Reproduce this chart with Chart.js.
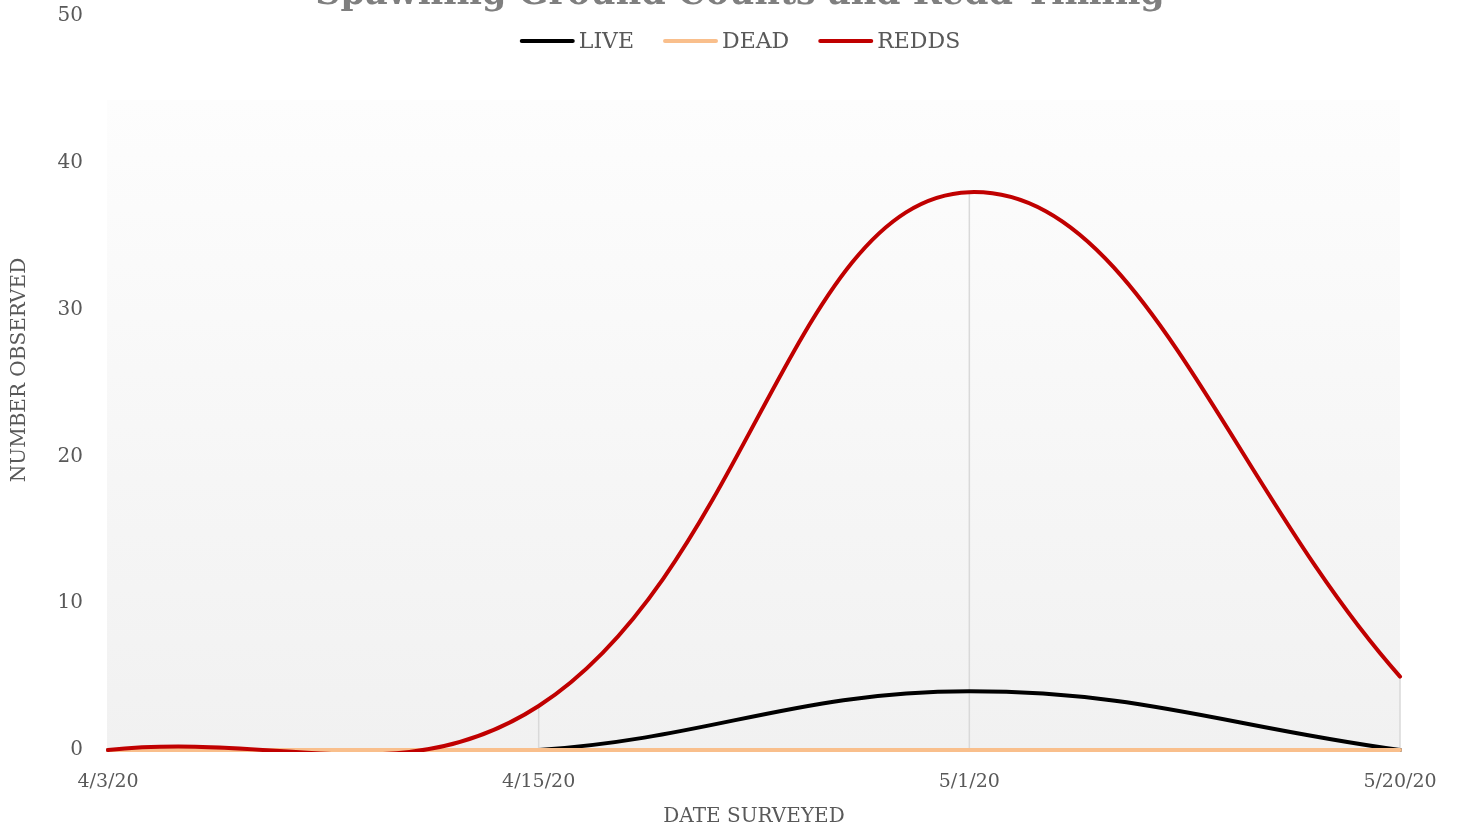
<!DOCTYPE html>
<html>
<head>
<meta charset="utf-8">
<title>Spawning Ground Counts and Redd Timing</title>
<script src="https://cdn.jsdelivr.net/npm/chart.js@4.4.0/dist/chart.umd.min.js"></script>
<style>
    html, body { margin: 0; padding: 0; background: #ffffff; }
    #wrap { position: relative; width: 1457px; height: 831px; overflow: hidden; }
</style>
</head>
<body>
<div id="wrap"><canvas id="spawnChart" width="1457" height="831"></canvas></div>
<script>
// Dados do gráfico
const surveyDates = ['4/3/20', '4/15/20', '5/1/20', '5/20/20'];
const liveCounts = [0, 0, 4, 0];
const deadCounts = [0, 0, 0, 0];
const reddCounts = [0, 3, 38, 5];
const yTickValues = [0, 10, 20, 30, 40, 50];

const chartTitle = 'Spawning Ground Counts and Redd Timing';
const fontFamily = "'DejaVu Serif', 'Liberation Serif', serif";
const textColor = '#595959';

// Fundo em degradê da área de plotagem
const plotBackground = {
    id: 'plotBackground',
    beforeDraw(chart) {
        const { ctx, chartArea } = chart;
        const top = 100;
        const grad = ctx.createLinearGradient(0, top, 0, chartArea.bottom);
        grad.addColorStop(0, '#fdfdfd');
        grad.addColorStop(1, '#f1f1f1');
        ctx.save();
        ctx.fillStyle = grad;
        ctx.fillRect(chartArea.left - 1, top, chartArea.right - chartArea.left + 1, chartArea.bottom - top);
        ctx.restore();
    }
};

// Linhas verticais (drop lines) do maior valor até o zero
const dropLines = {
    id: 'dropLines',
    beforeDatasetsDraw(chart) {
        const { ctx, scales } = chart;
        const sets = chart.data.datasets;
        ctx.save();
        ctx.strokeStyle = '#d9d9d9';
        ctx.lineWidth = 1.5;
        surveyDates.forEach((d, i) => {
            const maxVal = Math.max(...sets.map(s => s.data[i]));
            if (maxVal <= 0) return;
            const x = scales.x.getPixelForValue(i);
            ctx.beginPath();
            ctx.moveTo(x, scales.y.getPixelForValue(maxVal));
            ctx.lineTo(x, scales.y.getPixelForValue(0));
            ctx.stroke();
        });
        ctx.restore();
    }
};

// Título, legenda e título do eixo Y desenhados por cima da área do gráfico
const header = {
    id: 'header',
    afterDraw(chart) {
        const { ctx } = chart;
        const centerX = 740;
        ctx.save();
        ctx.font = 'bold 35px ' + fontFamily;
        ctx.fillStyle = '#7f7f7f';
        ctx.textAlign = 'center';
        ctx.textBaseline = 'alphabetic';
        ctx.fillText(chartTitle, centerX, 4);

        ctx.font = '22px ' + fontFamily;
        ctx.textAlign = 'left';
        ctx.textBaseline = 'middle';
        const sampleW = 55, textGap = 4, itemGap = 29, legendY = 41;
        const sets = chart.data.datasets;
        const widths = sets.map(s => sampleW + textGap + ctx.measureText(s.label).width);
        const total = widths.reduce((a, b) => a + b, 0) + itemGap * (sets.length - 1);
        let x = centerX - total / 2;
        sets.forEach((s, i) => {
            ctx.strokeStyle = s.borderColor;
            ctx.lineWidth = 4;
            ctx.lineCap = 'round';
            ctx.beginPath();
            ctx.moveTo(x + 2, legendY);
            ctx.lineTo(x + sampleW - 2, legendY);
            ctx.stroke();
            ctx.fillStyle = textColor;
            ctx.fillText(s.label, x + sampleW + textGap, legendY + 1);
            x += widths[i] + itemGap;
        });

        // título do eixo Y (centrado como no Excel)
        ctx.font = '20px ' + fontFamily;
        ctx.fillStyle = textColor;
        ctx.textAlign = 'center';
        ctx.textBaseline = 'middle';
        ctx.translate(20, 370);
        ctx.rotate(-Math.PI / 2);
        ctx.fillText('NUMBER OBSERVED', 0, 0);
        ctx.restore();
    }
};

const lineClip = { left: 3, top: 3, right: 3, bottom: 2 };

const ctx = document.getElementById('spawnChart').getContext('2d');
const spawnChart = new Chart(ctx, {
    type: 'line',
    data: {
        labels: surveyDates,
        datasets: [
            { label: 'LIVE', data: liveCounts, borderColor: '#000000', order: 3, clip: lineClip },
            { label: 'DEAD', data: deadCounts, borderColor: '#f9bf8c', order: 2, clip: lineClip },
            { label: 'REDDS', data: reddCounts, borderColor: '#c00000', order: 1, clip: lineClip }
        ]
    },
    options: {
        responsive: false,
        animation: false,
        devicePixelRatio: 1,
        layout: { padding: { top: 16, right: 57, bottom: 0, left: 0 } },
        elements: {
            line: { borderWidth: 4, tension: 0.4, capBezierPoints: false, fill: false, borderCapStyle: 'round' },
            point: { radius: 0, hoverRadius: 0 }
        },
        plugins: {
            legend: { display: false },
            title: { display: false },
            tooltip: { enabled: false }
        },
        scales: {
            x: {
                type: 'category',
                offset: false,
                grid: { display: false },
                border: { display: false },
                ticks: {
                    color: textColor,
                    font: { family: fontFamily, size: 19 },
                    padding: 13,
                    maxRotation: 0,
                    autoSkip: false
                },
                title: {
                    display: true,
                    text: 'DATE SURVEYED',
                    color: textColor,
                    font: { family: fontFamily, size: 20 },
                    padding: { top: 0, bottom: 2 }
                },
                afterFit(scale) { scale.height = 81; }
            },
            y: {
                min: 0,
                max: 50,
                grid: { display: false, drawTicks: false },
                border: { display: false },
                afterBuildTicks(scale) { scale.ticks = yTickValues.map(v => ({ value: v })); },
                ticks: {
                    color: textColor,
                    font: { family: fontFamily, size: 20 },
                    padding: 25
                },
                title: { display: false },
                afterFit(scale) {
                    scale.width = 108;
                    scale.paddingTop = 0;
                    scale.paddingBottom = 0;
                }
            }
        }
    },
    plugins: [plotBackground, dropLines, header]
});
</script>
</body>
</html>
